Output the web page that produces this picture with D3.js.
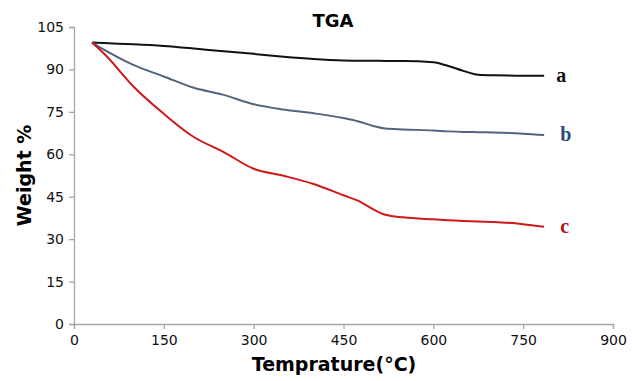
<!DOCTYPE html>
<html>
<head>
<meta charset="utf-8">
<script src="https://cdn.jsdelivr.net/npm/d3@7"></script>
<style>
  body { margin: 0; background: #fff; }
  text { font-family: "DejaVu Sans", Verdana, sans-serif; }
</style>
</head>
<body>
<div class="canvas"></div>
<script>
// data
const temps = [30, 50, 100, 150, 200, 250, 300, 350, 400, 450, 475, 500, 520, 550, 600, 625, 650, 675, 700, 750, 785]
const seriesA = [99.5, 99.3, 98.9, 98.3, 97.4, 96.4, 95.5, 94.5, 93.7, 93.2, 93.1, 93.1, 93.0, 93.0, 92.5, 91.2, 89.5, 88.1, 87.9, 87.8, 87.8]
const seriesB = [99.5, 97.0, 91.5, 87.5, 83.5, 81.0, 77.7, 75.8, 74.5, 72.8, 71.6, 70.0, 69.1, 68.8, 68.4, 68.1, 67.9, 67.8, 67.7, 67.3, 66.8]
const seriesC = [99.5, 95.6, 83.8, 74.3, 66.1, 60.8, 54.9, 52.4, 49.5, 45.5, 43.5, 40.5, 38.6, 37.7, 37.0, 36.7, 36.4, 36.2, 36.1, 35.3, 34.4]
const seriesNames = ['a', 'b', 'c']
const xTicks = [0, 150, 300, 450, 600, 750, 900]
const yTicks = [0, 15, 30, 45, 60, 75, 90, 105]

const lineColors = ['#111111', '#52647e', '#d01818']
const labelColors = ['#111111', '#2a4a7c', '#b3121c']

const margin = { top: 27, right: 19, bottom: 57, left: 74 }
const width = 632
const height = 381
const graphWidth = width - margin.left - margin.right
const graphHeight = height - margin.top - margin.bottom

const svg = d3.select('.canvas')
    .append('svg')
    .attr('width', width)
    .attr('height', height)

const graph = svg.append('g')
    .attr('transform', `translate(${margin.left}, ${margin.top})`)

// scales
const x = d3.scaleLinear().domain([0, 900]).range([0, graphWidth])
const y = d3.scaleLinear().domain([0, 105]).range([graphHeight, 0])

// axes
const xAxis = d3.axisBottom(x).tickValues(xTicks).tickSize(5).tickPadding(6)
const yAxis = d3.axisLeft(y).tickValues(yTicks).tickSize(5).tickPadding(5)

const xAxisGroup = graph.append('g')
    .attr('transform', `translate(0, ${graphHeight})`)
    .call(xAxis)
const yAxisGroup = graph.append('g').call(yAxis)

;[xAxisGroup, yAxisGroup].forEach(g => {
    g.selectAll('path, line').attr('stroke', '#a6a6a6').attr('stroke-width', 1.3)
    g.selectAll('text').attr('fill', '#111').style('font-size', '14px')
})

// lines
const line = d3.line()
    .curve(d3.curveMonotoneX)
    .x((d, i) => x(temps[i]))
    .y(d => y(d))

const allSeries = [seriesA, seriesB, seriesC]

graph.selectAll('path.series')
    .data(allSeries)
    .enter()
    .append('path')
        .attr('class', 'series')
        .attr('fill', 'none')
        .attr('stroke', (d, i) => lineColors[i])
        .attr('stroke-width', 2)
        .attr('d', line)

// end labels
graph.selectAll('text.series-label')
    .data(allSeries)
    .enter()
    .append('text')
        .attr('class', 'series-label')
        .attr('x', (d, i) => x(temps[temps.length - 1]) + 12 + (i > 0 ? 4 : 0))
        .attr('y', d => y(d[d.length - 1]) + 6)
        .attr('fill', (d, i) => labelColors[i])
        .style('font-family', '"Liberation Serif", "DejaVu Serif", serif')
        .style('font-weight', 'bold')
        .style('font-size', '20px')
        .text((d, i) => seriesNames[i])

// title
svg.append('text')
    .attr('x', 333)
    .attr('y', 27)
    .attr('text-anchor', 'middle')
    .style('font-weight', 'bold')
    .style('font-size', '18px')
    .text('TGA')

// axis titles
svg.append('text')
    .attr('x', 334)
    .attr('y', 371)
    .attr('text-anchor', 'middle')
    .style('font-weight', 'bold')
    .style('font-size', '19px')
    .text('Temprature(°C)')

svg.append('text')
    .attr('transform', `translate(31, ${margin.top + graphHeight / 2}) rotate(-90)`)
    .attr('text-anchor', 'middle')
    .style('font-weight', 'bold')
    .style('font-size', '19px')
    .text('Weight %')
</script>
</body>
</html>
